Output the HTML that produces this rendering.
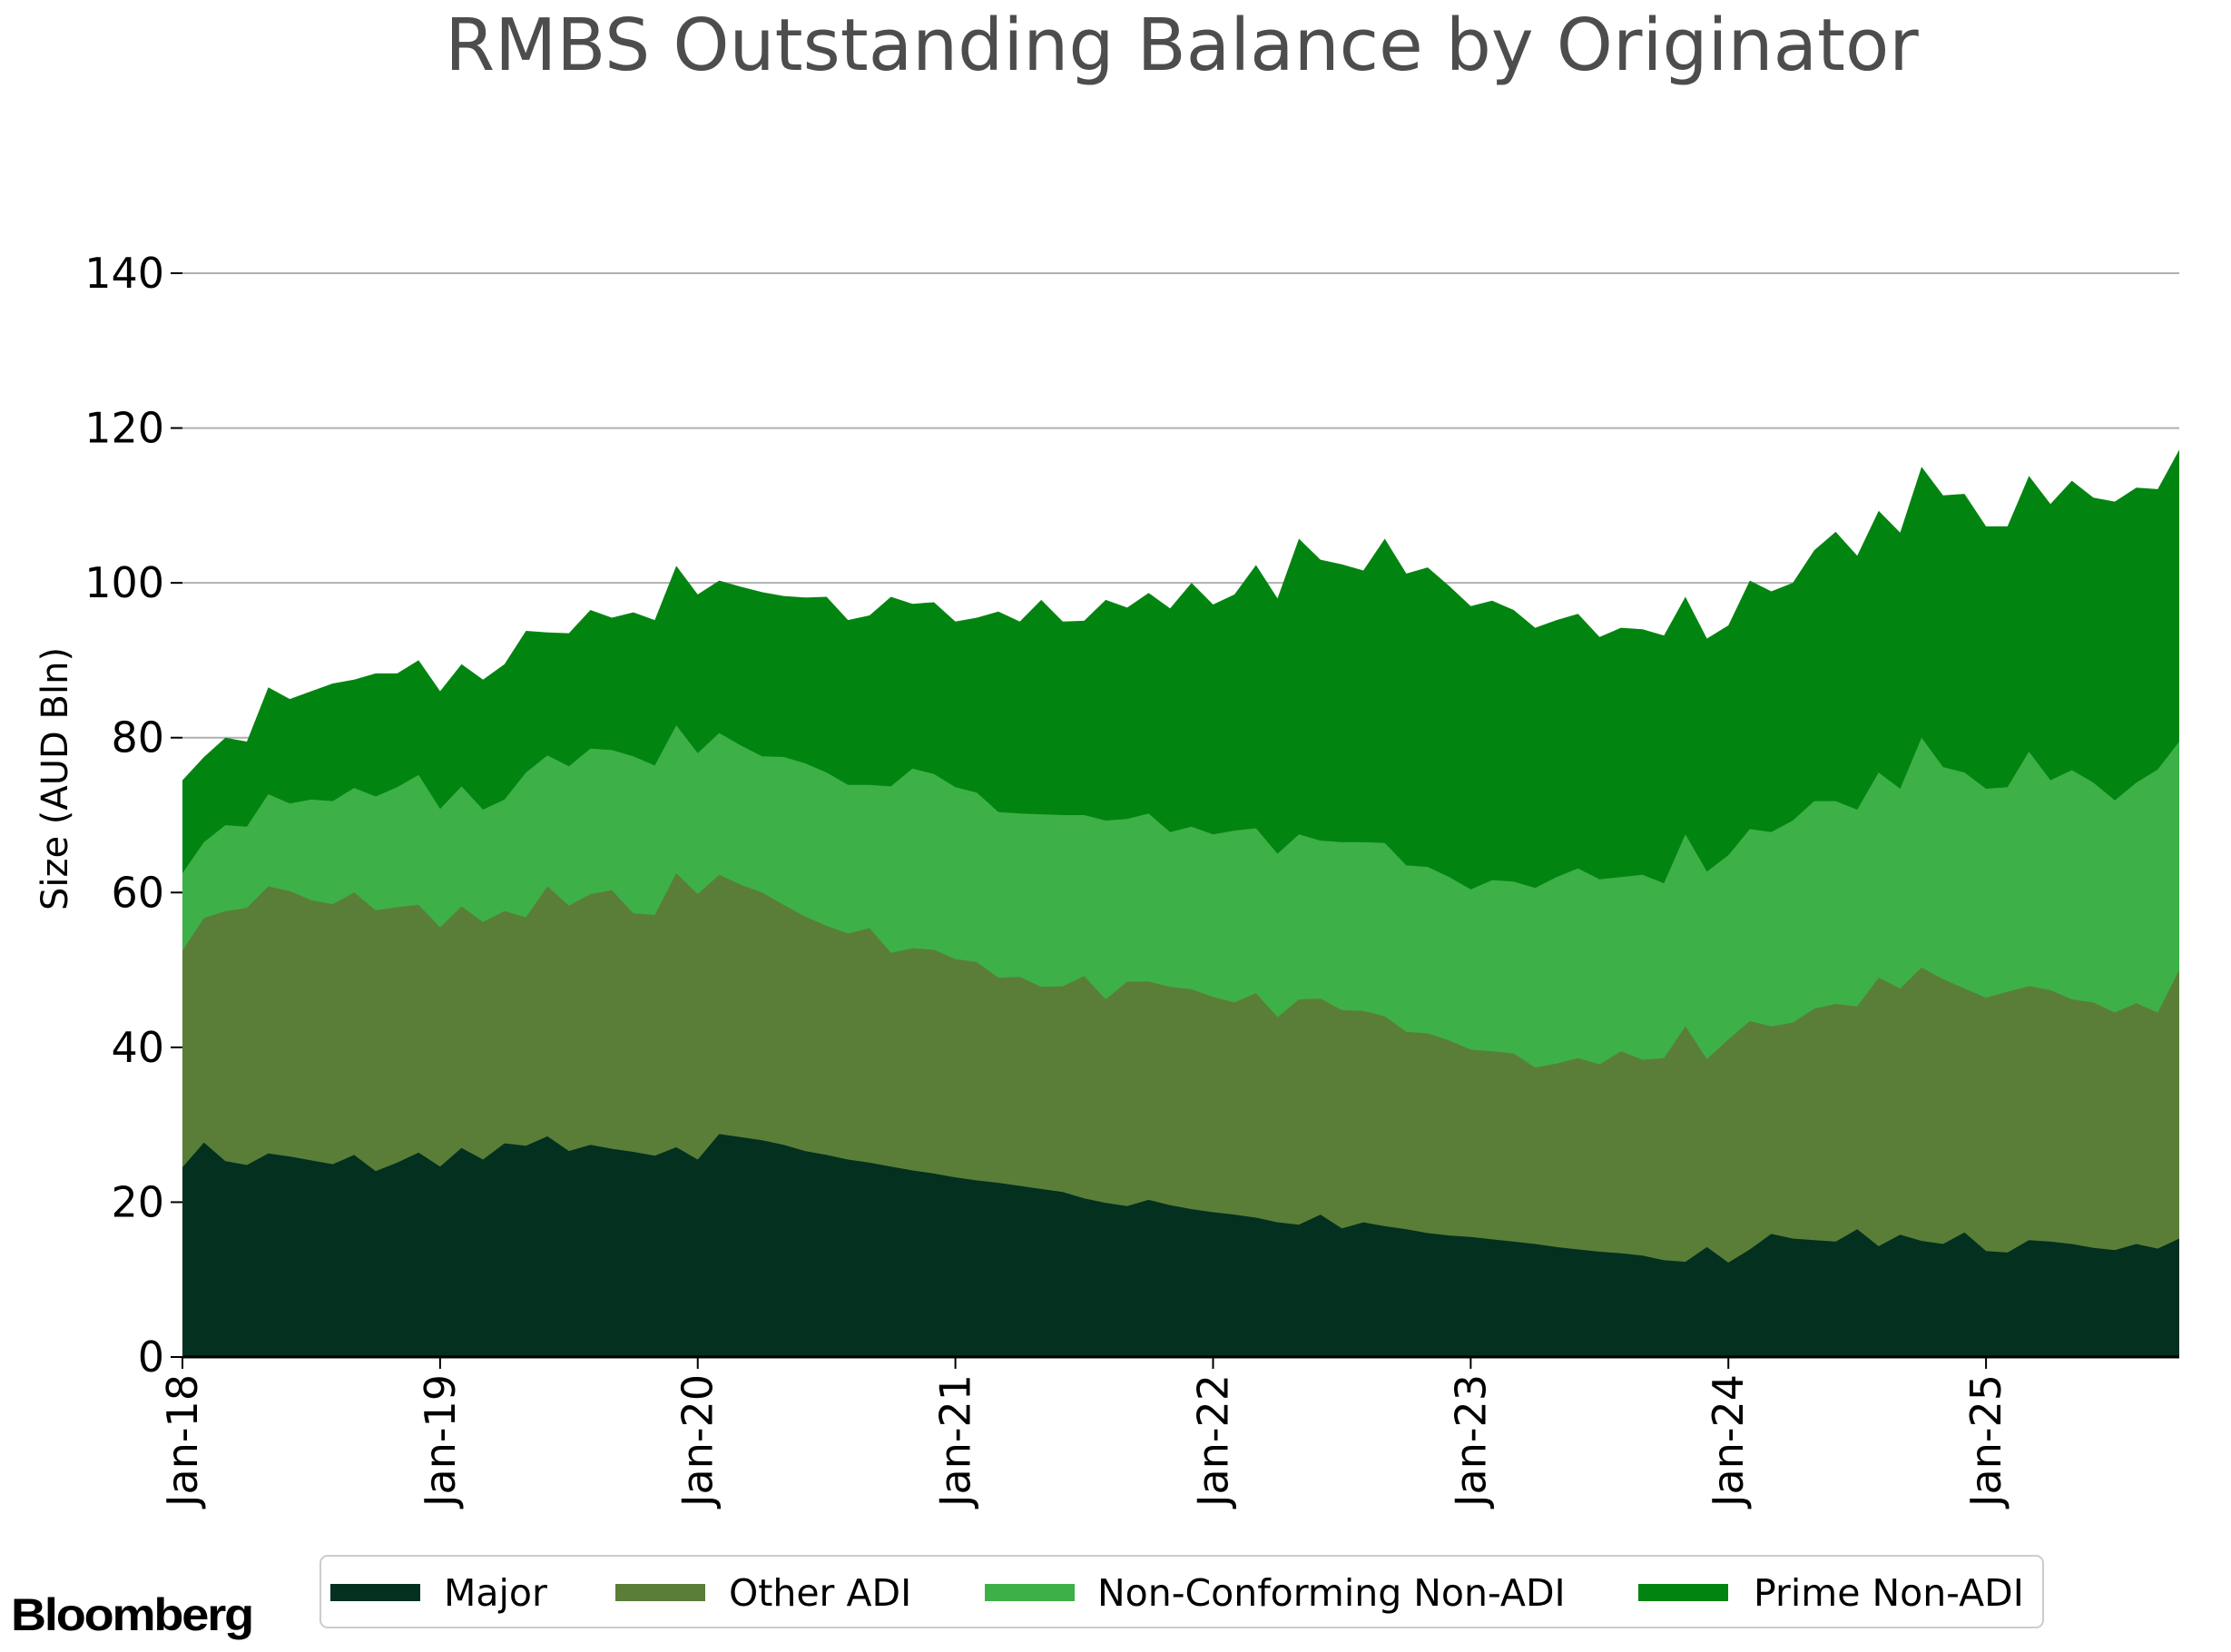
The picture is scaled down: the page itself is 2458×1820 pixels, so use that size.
<!DOCTYPE html>
<html><head><meta charset="utf-8">
<style>
html,body{margin:0;padding:0;background:#fff;}
svg{display:block;}
text{font-family:"DejaVu Sans","Liberation Sans",sans-serif;}
</style></head>
<body>
<svg id="s" width="2458" height="1820" viewBox="0 0 2458 1820" xmlns="http://www.w3.org/2000/svg">
<rect width="2458" height="1820" fill="#fff"/>
<text x="1302" y="77" font-size="79" fill="#4d4d4d" text-anchor="middle">RMBS Outstanding Balance by Originator</text>
<g id="grid" stroke="#b0b0b0" stroke-width="2"></g>
<g id="areas"></g>
<line x1="201" y1="1495" x2="2401" y2="1495" stroke="#000" stroke-width="3"/>
<g id="ticks"></g>
<text transform="translate(74,858) rotate(-90)" font-size="40" text-anchor="middle" fill="#000">Size (AUD Bln)</text>
<rect x="353" y="1714" width="1898" height="79" rx="8" fill="#fff" stroke="#cccccc" stroke-width="2"/>
<rect x="364" y="1745" width="99" height="19" fill="#03301f"/>
<text x="489" y="1769" font-size="41">Major</text>
<rect x="678" y="1745" width="99" height="19" fill="#5a7e38"/>
<text x="803" y="1769" font-size="41">Other ADI</text>
<rect x="1085" y="1745" width="99" height="19" fill="#3eb048"/>
<text x="1209" y="1769" font-size="41">Non-Conforming Non-ADI</text>
<rect x="1805" y="1745" width="99" height="19" fill="#028510"/>
<text x="1932" y="1769" font-size="41">Prime Non-ADI</text>
<text x="12" y="1796" font-size="50" font-weight="bold" style="font-family:'Liberation Sans',sans-serif" textLength="266" lengthAdjust="spacingAndGlyphs" letter-spacing="-2">Bloomberg</text>
</svg>
<script>
var tot=[74.5,77.5,80,79.5,86.5,85,86,87,87.5,88.3,88.3,90,
86,89.5,87.5,89.5,93.8,93.6,93.5,96.5,95.5,96.2,95.2,102.2,
98.5,100.3,99.5,98.8,98.3,98.1,98.2,95.2,95.8,98.2,97.3,97.5,
95,95.5,96.3,95,97.8,95,95.1,97.8,96.8,98.7,96.7,100,
97.2,98.5,102.3,98,105.7,103,102.4,101.6,105.7,101.2,102,99.6,
97,97.7,96.5,94.2,95.2,96,93,94.2,94,93.2,98.2,92.8,
94.5,100.3,98.9,100,104.2,106.6,103.5,109.3,106.5,115,111.3,111.5,
107.3,107.3,113.8,110.2,113.2,111,110.5,112.3,112.1,117.2];
var nc=[62.5,66.5,68.7,68.5,72.7,71.5,72,71.8,73.5,72.4,73.6,75.2,
70.8,73.7,70.7,72,75.5,77.7,76.3,78.6,78.4,77.6,76.4,81.6,
78,80.6,79,77.6,77.5,76.7,75.5,73.9,73.9,73.7,76,75.3,
73.6,72.9,70.4,70.2,70.1,70,70,69.3,69.5,70.2,67.8,68.5,
67.5,68,68.3,65,67.5,66.7,66.5,66.5,66.4,63.5,63.3,62,
60.4,61.6,61.4,60.6,62,63.1,61.7,62,62.3,61.2,67.5,62.7,
64.8,68.2,67.8,69.3,71.8,71.8,70.7,75.5,73.4,80,76.2,75.5,
73.4,73.6,78.2,74.5,75.8,74.2,71.9,74.2,75.9,79.5];
var oa=[52.5,56.7,57.6,58,60.8,60.2,59,58.5,60,57.7,58.1,58.4,
55.5,58.2,56.2,57.6,56.8,60.8,58.3,59.8,60.3,57.3,57.1,62.5,
59.8,62.3,61,60,58.4,56.9,55.7,54.7,55.4,52.2,52.8,52.6,
51.4,51,49,49.1,47.8,47.9,49.2,46.2,48.5,48.5,47.8,47.5,
46.5,45.8,47,43.9,46.2,46.3,44.8,44.7,44,42,41.8,40.9,
39.7,39.5,39.2,37.4,37.9,38.6,37.8,39.5,38.4,38.6,42.7,38.5,
41,43.4,42.7,43.2,45,45.6,45.3,49,47.6,50.3,48.8,47.6,
46.4,47.2,47.9,47.4,46.2,45.8,44.5,45.7,44.5,50];
var mj=[24.5,27.7,25.3,24.8,26.3,25.9,25.4,24.9,26.1,24,25.1,26.4,
24.6,27,25.5,27.6,27.3,28.5,26.6,27.4,26.9,26.5,26,27.1,
25.5,28.8,28.4,28,27.4,26.6,26.1,25.5,25.1,24.6,24.1,23.7,
23.2,22.8,22.5,22.1,21.7,21.3,20.5,19.9,19.5,20.3,19.6,19.1,
18.7,18.4,18,17.4,17.1,18.4,16.6,17.4,16.9,16.5,16,15.7,
15.5,15.2,14.9,14.6,14.2,13.9,13.6,13.4,13.1,12.5,12.3,14.2,
12.2,13.9,15.9,15.3,15.1,14.9,16.5,14.3,15.8,15,14.6,16.1,
13.7,13.5,15.1,14.9,14.6,14.1,13.8,14.6,14.0,15.3];
var X0=201,DX=(2401-201)/93,Y0=1495,K=(1495-301)/140;
function X(i){return X0+i*DX;} function Y(v){return Y0-v*K;}
var NS="http://www.w3.org/2000/svg";
var g=document.getElementById('grid');
for(var v=20;v<=140;v+=20){var l=document.createElementNS(NS,'line');l.setAttribute('x1',X0);l.setAttribute('x2',2401);l.setAttribute('y1',Y(v));l.setAttribute('y2',Y(v));g.appendChild(l);}
var a=document.getElementById('areas');
function area(top,col){var d='M'+X(0)+','+Y0;for(var i=0;i<top.length;i++)d+=' L'+X(i).toFixed(1)+','+Y(top[i]).toFixed(1);d+=' L'+X(top.length-1)+','+Y0+' Z';var p=document.createElementNS(NS,'path');p.setAttribute('d',d);p.setAttribute('fill',col);a.appendChild(p);}
area(tot,'#028510');area(nc,'#3eb048');area(oa,'#5a7e38');area(mj,'#03301f');
var t=document.getElementById('ticks');var h='';
for(var v=0;v<=140;v+=20){h+='<line x1="'+(X0-13)+'" x2="'+X0+'" y1="'+Y(v)+'" y2="'+Y(v)+'" stroke="#000" stroke-width="2"/>';h+='<text x="'+(X0-20)+'" y="'+(Y(v)+16)+'" font-size="46" text-anchor="end">'+v+'</text>';}
for(var yr=0;yr<8;yr++){var x=X(yr*12);h+='<line x1="'+x+'" x2="'+x+'" y1="'+Y0+'" y2="'+(Y0+13)+'" stroke="#000" stroke-width="2"/>';h+='<text transform="translate('+(x+16)+','+(Y0+19)+') rotate(-90)" font-size="46" text-anchor="end">Jan-'+(18+yr)+'</text>';}
t.innerHTML=h;
</script>
</body></html>
